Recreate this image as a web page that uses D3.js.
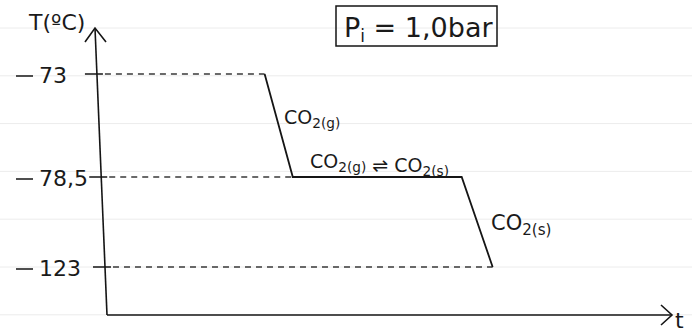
<!DOCTYPE html>
<html>
<head>
<meta charset="utf-8">
<script src="https://cdn.jsdelivr.net/npm/d3@7"></script>
<style>
  html, body { margin: 0; padding: 0; background: #fff; }
  svg { display: block; }
  text { font-family: "DejaVu Sans", sans-serif; fill: #1a1a1a; }
</style>
</head>
<body>
<svg id="chart" width="692" height="333"></svg>
<script>
// Cooling curve of CO2 at constant pressure
const tempTicks = [-73, -78.5, -123];
const tickLabels = ["73", "78,5", "123"];
const curveTimes = [2.8, 3.3, 6.3, 6.85];
const curveTemps = [-73, -78.5, -78.5, -123];
const phaseLabels = ["CO2(g)", "CO2(g) ⇌ CO2(s)", "CO2(s)"];
const pressureLabel = "Pi = 1,0bar";

const W = 692, H = 333;
const svg = d3.select("#chart");

// Ruled notebook lines in the background
const ruled = d3.range(28, H, 47.8);
svg.append("g").selectAll("line").data(ruled).join("line")
  .attr("x1", 0).attr("x2", W)
  .attr("y1", d => d).attr("y2", d => d)
  .attr("stroke", "#ececec").attr("stroke-width", 1);

// Scales (temperature axis is not drawn to proportion, so a piecewise scale)
const x = d3.scaleLinear().domain([0, 10]).range([107, 670]);
const y = d3.scaleLinear().domain([-123, -78.5, -73]).range([267, 177, 74]);

const ink = "#151515";

// Slightly slanted y axis with arrow
const axisTop = [95, 28], axisBottom = [107, 315];
const axisXAt = yy => axisTop[0] + (axisBottom[0] - axisTop[0]) * (yy - axisTop[1]) / (axisBottom[1] - axisTop[1]);
svg.append("path")
  .attr("d", `M${axisTop[0]},${axisTop[1]} L${axisBottom[0]},${axisBottom[1]}`)
  .attr("stroke", ink).attr("stroke-width", 1.6).attr("fill", "none");
svg.append("path")
  .attr("d", `M85,42 L${axisTop[0]},${axisTop[1]} L106,42`)
  .attr("stroke", ink).attr("stroke-width", 1.6).attr("fill", "none");

// x axis with arrow
svg.append("path")
  .attr("d", `M${axisBottom[0]},${axisBottom[1]} L${x(10) + 2},${axisBottom[1]}`)
  .attr("stroke", ink).attr("stroke-width", 1.6).attr("fill", "none");
svg.append("path")
  .attr("d", `M${x(10) - 9},305 L${x(10) + 2},315 L${x(10) - 9},325`)
  .attr("stroke", ink).attr("stroke-width", 1.6).attr("fill", "none");

// Axis titles
svg.append("text").attr("x", 29).attr("y", 30)
  .attr("font-size", 22).text("T(ºC)");
svg.append("text").attr("x", 675).attr("y", 328)
  .attr("font-size", 22).text("t");

// Temperature ticks and labels
const ticks = svg.append("g");
tempTicks.forEach((t, i) => {
  const yy = y(t);
  const ax = axisXAt(yy);
  ticks.append("line")
    .attr("x1", ax - 12).attr("x2", ax + 6)
    .attr("y1", yy).attr("y2", yy)
    .attr("stroke", ink).attr("stroke-width", 1.5);
  ticks.append("line")
    .attr("x1", 16).attr("x2", 33)
    .attr("y1", yy + 2).attr("y2", yy + 2)
    .attr("stroke", ink).attr("stroke-width", 1.5);
  ticks.append("text")
    .attr("x", 39).attr("y", yy + 9)
    .attr("font-size", 22)
    .text(tickLabels[i]);
});

// Dashed guides from the axis to the curve
const guideIdx = [0, 1, 3];
svg.append("g").selectAll("line").data(guideIdx).join("line")
  .attr("x1", i => axisXAt(y(curveTemps[i])) + 8)
  .attr("x2", i => x(curveTimes[i]))
  .attr("y1", i => y(curveTemps[i]))
  .attr("y2", i => y(curveTemps[i]))
  .attr("stroke", "#3a3a3a").attr("stroke-width", 1.3)
  .attr("stroke-dasharray", "6,5");

// Cooling curve
const pts = curveTimes.map((t, i) => [x(t), y(curveTemps[i])]);
svg.append("path")
  .attr("d", d3.line()(pts))
  .attr("stroke", ink).attr("stroke-width", 1.8).attr("fill", "none");

// Chemical labels with subscripts
function chem(g, str, size) {
  // split "CO2(x)" pieces so the "2(x)" part sits lower and smaller
  const parts = str.split(/(2\([a-z]\))/).filter(s => s.length);
  parts.forEach(p => {
    if (/^2\(/.test(p)) {
      g.append("tspan").attr("font-size", size * 0.72).attr("dy", size * 0.22).text(p);
      g.append("tspan").attr("font-size", size).attr("dy", -size * 0.22).text("");
    } else {
      g.append("tspan").attr("font-size", size).text(p);
    }
  });
}
const lab1 = svg.append("text").attr("x", 284).attr("y", 124);
chem(lab1, phaseLabels[0], 19);
const lab2 = svg.append("text").attr("x", 310).attr("y", 168);
chem(lab2, phaseLabels[1], 19);
const lab3 = svg.append("text").attr("x", 491).attr("y", 230);
chem(lab3, phaseLabels[2], 21);

// Pressure box
svg.append("rect")
  .attr("x", 336).attr("y", 6).attr("width", 161).attr("height", 40)
  .attr("fill", "none").attr("stroke", ink).attr("stroke-width", 1.5);
const pt = svg.append("text").attr("x", 344).attr("y", 37).attr("font-size", 27);
pt.append("tspan").text(pressureLabel.slice(0, 1));
pt.append("tspan").attr("font-size", 17).attr("dy", 5).text(pressureLabel.slice(1, 2));
pt.append("tspan").attr("dy", -5).text(" " + pressureLabel.slice(3));
</script>
</body>
</html>
